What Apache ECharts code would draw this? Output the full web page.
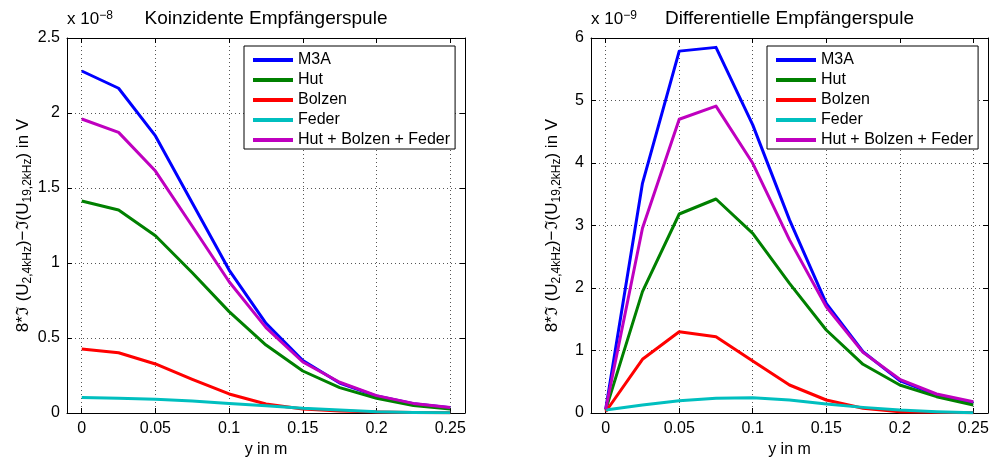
<!DOCTYPE html>
<html><head><meta charset="utf-8">
<script src="https://cdn.jsdelivr.net/npm/echarts@6/dist/echarts.min.js"></script>
<style>html,body{margin:0;padding:0;background:#fff}#c{width:989px;height:457px}</style>
</head><body><div id="c"></div>
<script>
// ---- data ----
const positions = [0, 0.025, 0.05, 0.075, 0.1, 0.125, 0.15, 0.175, 0.2, 0.225, 0.25];
const xTicks = [0, 0.05, 0.1, 0.15, 0.2, 0.25];
const seriesNames = ['M3A', 'Hut', 'Bolzen', 'Feder', 'Hut + Bolzen + Feder'];
const titles = ['Koinzidente Empfängerspule', 'Differentielle Empfängerspule'];
const exponents = ['−8', '−9'];
// Koinzidente Empfängerspule (in 1e-8 V)
const koinM3A    = [2.28, 2.165, 1.847, 1.40, 0.953, 0.598, 0.35, 0.20, 0.113, 0.062, 0.035];
const koinHut    = [1.413, 1.353, 1.182, 0.935, 0.676, 0.453, 0.28, 0.169, 0.098, 0.05, 0.027];
const koinBolzen = [0.427, 0.402, 0.327, 0.224, 0.127, 0.06, 0.027, 0.013, 0.006, 0.003, 0.002];
const koinFeder  = [0.104, 0.098, 0.091, 0.08, 0.064, 0.049, 0.031, 0.02, 0.009, 0.004, 0.002];
const koinSum    = [1.96, 1.871, 1.613, 1.245, 0.875, 0.569, 0.34, 0.205, 0.116, 0.064, 0.036];
// Differentielle Empfängerspule (in 1e-9 V)
const diffM3A    = [0.06, 3.675, 5.79, 5.85, 4.61, 3.09, 1.755, 0.98, 0.517, 0.288, 0.165];
const diffHut    = [0.05, 1.942, 3.184, 3.424, 2.875, 2.075, 1.328, 0.779, 0.448, 0.261, 0.128];
const diffBolzen = [0.02, 0.859, 1.30, 1.221, 0.832, 0.448, 0.208, 0.075, 0.02, 0.01, 0.005];
const diffFeder  = [0.048, 0.128, 0.197, 0.235, 0.245, 0.208, 0.144, 0.09, 0.048, 0.021, 0.005];
const diffSum    = [0.06, 2.955, 4.70, 4.91, 3.995, 2.77, 1.70, 0.97, 0.539, 0.304, 0.181];
const yMax = [2.5, 6];
const yStep = [0.5, 1];

// ---- styling ----
const FONT = '"Liberation Sans", Arial, Helvetica, sans-serif';
const colors = ['#0000ff', '#008000', '#ff0000', '#00bfbf', '#bf00bf'];
const grids = [
  {left: 67, top: 38, width: 398, height: 375, containLabel: false, outerBoundsMode: 'none'},
  {left: 591, top: 38, width: 397, height: 375, containLabel: false, outerBoundsMode: 'none'}
];
const axisLineStyle = {color: '#000', width: 1};
const gridLine = {show: true, lineStyle: {color: '#555', width: 1, type: [1, 3]}};

const xAxis = [], yAxis = [];
grids.forEach((g, gi) => {
  xAxis.push({
    gridIndex: gi, type: 'value', min: -0.01, max: 0.26, position: 'bottom',
    name: 'y in m', nameLocation: 'middle', nameGap: 25,
    nameTextStyle: {color: '#000', fontSize: 16, fontFamily: FONT},
    axisLine: {show: true, onZero: false, lineStyle: axisLineStyle},
    axisTick: {show: true, inside: true, length: 5, customValues: xTicks, lineStyle: axisLineStyle},
    axisLabel: {customValues: xTicks, margin: 8, color: '#000', fontSize: 16, fontFamily: FONT},
    splitLine: gridLine
  });
  xAxis.push({
    gridIndex: gi, type: 'value', min: -0.01, max: 0.26, position: 'top',
    axisLine: {show: true, onZero: false, lineStyle: axisLineStyle},
    axisTick: {show: true, inside: true, length: 5, customValues: xTicks, lineStyle: axisLineStyle},
    axisLabel: {show: false}, splitLine: {show: false}
  });
  yAxis.push({
    gridIndex: gi, type: 'value', min: 0, max: yMax[gi], interval: yStep[gi], position: 'left',
    name: '{m|8*ℑ (U}{s|2,4kHz}{m|)−ℑ(U}{s|19,2kHz}{m|) in V}',
    nameLocation: 'middle', nameGap: 28,
    nameTextStyle: {
      color: '#000', fontFamily: FONT,
      rich: {
        m: {fontSize: 17, lineHeight: 22, verticalAlign: 'middle', fontFamily: FONT, color: '#000'},
        s: {fontSize: 12, lineHeight: 12, verticalAlign: 'bottom', fontFamily: FONT, color: '#000'}
      }
    },
    axisLine: {show: true, onZero: false, lineStyle: axisLineStyle},
    axisTick: {show: true, inside: true, length: 5, lineStyle: axisLineStyle},
    axisLabel: {margin: 7, color: '#000', fontSize: 16, fontFamily: FONT},
    splitLine: gridLine
  });
  yAxis.push({
    gridIndex: gi, type: 'value', min: 0, max: yMax[gi], interval: yStep[gi], position: 'right',
    axisLine: {show: true, onZero: false, lineStyle: axisLineStyle},
    axisTick: {show: true, inside: true, length: 5, lineStyle: axisLineStyle},
    axisLabel: {show: false}, splitLine: {show: false}
  });
});

const dataSets = [
  [koinM3A, koinHut, koinBolzen, koinFeder, koinSum],
  [diffM3A, diffHut, diffBolzen, diffFeder, diffSum]
];
const series = [];
dataSets.forEach((set, gi) => {
  set.forEach((vals, si) => {
    series.push({
      type: 'line', name: seriesNames[si],
      xAxisIndex: gi * 2, yAxisIndex: gi * 2,
      data: positions.map((x, i) => [x, vals[i]]),
      showSymbol: false, symbol: 'none',
      color: colors[si],
      lineStyle: {color: colors[si], width: 3, join: 'round'},
      z: 2 + si, animation: false
    });
  });
});

const legends = grids.map((g, gi) => ({
  data: seriesNames, orient: 'vertical',
  left: gi === 0 ? 244 : 767, top: 46,
  icon: 'rect', itemWidth: 40, itemHeight: 4, itemGap: 4,
  padding: [6, 5, 1, 9],
  borderColor: '#000', borderWidth: 1, backgroundColor: '#fff',
  selectedMode: false,
  textStyle: {color: '#000', fontSize: 16, lineHeight: 16, fontFamily: FONT}
}));

const graphic = [];
grids.forEach((g, gi) => {
  graphic.push({
    type: 'text', x: g.left + g.width / 2, y: 19, silent: true,
    style: {text: titles[gi], fill: '#000', font: '19px ' + FONT, align: 'center', verticalAlign: 'middle'}
  });
  graphic.push({
    type: 'text', x: g.left, y: 10, silent: true,
    style: {
      text: '{a|x 10}{b|' + exponents[gi] + '}', align: 'left', verticalAlign: 'top',
      rich: {
        a: {fontSize: 17, lineHeight: 18, padding: [6, 0, 0, 0], verticalAlign: 'bottom', fontFamily: FONT, fill: '#000'},
        b: {fontSize: 12, lineHeight: 11, verticalAlign: 'top', fontFamily: FONT, fill: '#000'}
      }
    }
  });
});

const chart = echarts.init(document.getElementById('c'), null, {renderer: 'canvas'});
chart.setOption({
  animation: false,
  backgroundColor: '#fff',
  grid: grids,
  xAxis, yAxis, series,
  legend: legends,
  graphic
});
</script></body></html>
